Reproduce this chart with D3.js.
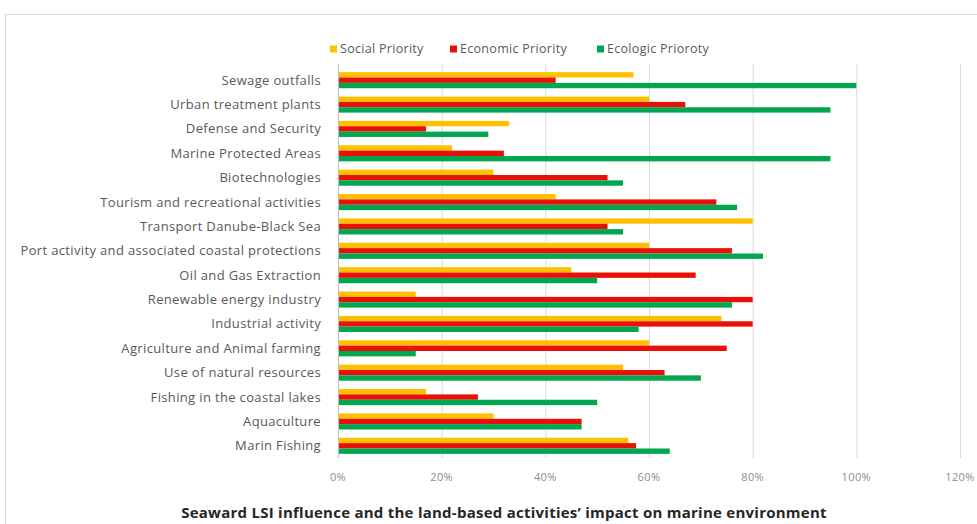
<!DOCTYPE html>
<html>
<head>
<meta charset="utf-8">
<script src="https://cdn.jsdelivr.net/npm/d3@7"></script>
<style>
  body { margin: 0; background: #fff; }
  svg { display: block; font-family: "Open Sans", "Liberation Sans", Arial, sans-serif; }
</style>
</head>
<body>
<svg id="chart" width="977" height="524"></svg>
<script>
const categories = [
  "Sewage outfalls",
  "Urban treatment plants",
  "Defense and Security",
  "Marine Protected Areas",
  "Biotechnologies",
  "Tourism and recreational activities",
  "Transport Danube-Black Sea",
  "Port activity and associated coastal protections",
  "Oil and Gas Extraction",
  "Renewable energy industry",
  "Industrial activity",
  "Agriculture and Animal farming",
  "Use of natural resources",
  "Fishing in the coastal lakes",
  "Aquaculture",
  "Marin Fishing"
]

const socialPriority   = [57, 60, 33, 22, 30, 42, 80, 60, 45, 15, 74, 60, 55, 17, 30, 56]
const economicPriority = [42, 67, 17, 32, 52, 73, 52, 76, 69, 80, 80, 75, 63, 27, 47, 57.5]
const ecologicPriority = [100, 95, 29, 95, 55, 77, 55, 82, 50, 76, 58, 15, 70, 50, 47, 64]

const seriesNames = ["Social Priority", "Economic Priority", "Ecologic Prioroty"]
const seriesColors = ["#ffc000", "#e81108", "#00a650"]
const xTicks = [0, 20, 40, 60, 80, 100, 120]

const svg = d3.select("#chart")

// chart frame
svg.append("rect")
  .attr("x", 5.5).attr("y", 14.5)
  .attr("width", 990).attr("height", 540)
  .attr("fill", "none")
  .attr("stroke", "#d9d9d9")

const plot = { left: 338, right: 960, top: 64, bottom: 458 }

const x = d3.scaleLinear()
  .domain([0, 120])
  .range([plot.left, plot.right])

const y = d3.scaleBand()
  .domain(categories)
  .range([68, 458])
  .paddingInner(0.34)
  .paddingOuter(0.17)

const ySub = d3.scaleBand()
  .domain(seriesNames)
  .range([0, y.bandwidth()])

// gridlines
svg.append("g")
  .selectAll("line")
  .data(xTicks)
  .join("line")
  .attr("x1", d => x(d) + 0.5)
  .attr("x2", d => x(d) + 0.5)
  .attr("y1", plot.top)
  .attr("y2", plot.bottom)
  .attr("stroke", "#d9d9d9")

// tick labels
svg.append("g")
  .selectAll("text")
  .data(xTicks)
  .join("text")
  .attr("x", d => x(d))
  .attr("y", 477)
  .attr("dy", "0.35em")
  .attr("text-anchor", "middle")
  .attr("font-size", "11px")
  .attr("letter-spacing", "0.4px")
  .attr("fill", "#8c8c8c")
  .text(d => d + "%")

// bars
const rows = categories.map((c, i) => ({
  category: c,
  values: [socialPriority[i], economicPriority[i], ecologicPriority[i]]
}))

const groups = svg.append("g")
  .selectAll("g")
  .data(rows)
  .join("g")
  .attr("transform", d => `translate(0,${y(d.category)})`)

groups.selectAll("rect")
  .data(d => d.values.map((v, j) => ({ name: seriesNames[j], value: v, color: seriesColors[j] })))
  .join("rect")
  .attr("x", x(0))
  .attr("y", d => ySub(d.name))
  .attr("width", d => x(d.value) - x(0))
  .attr("height", ySub.bandwidth())
  .attr("fill", d => d.color)

// category axis line
svg.append("line")
  .attr("x1", x(0) + 0.5).attr("x2", x(0) + 0.5)
  .attr("y1", plot.top).attr("y2", plot.bottom)
  .attr("stroke", "#bfbfbf")

// category labels
svg.append("g")
  .selectAll("text")
  .data(categories)
  .join("text")
  .attr("x", 321)
  .attr("y", d => y(d) + y.bandwidth() / 2)
  .attr("dy", "0.35em")
  .attr("text-anchor", "end")
  .attr("font-size", "13px")
  .attr("letter-spacing", "0.35px")
  .attr("fill", "#595959")
  .text(d => d)

// legend
const legendX = [330, 450, 597]
const legend = svg.append("g")
seriesNames.forEach((name, i) => {
  const item = legend.append("g").attr("transform", `translate(${legendX[i]},49)`)
  item.append("rect")
    .attr("x", 0).attr("y", -3.5)
    .attr("width", 7).attr("height", 7)
    .attr("fill", seriesColors[i])
  item.append("text")
    .attr("x", 10)
    .attr("dy", "0.35em")
    .attr("font-size", "12.5px")
    .attr("letter-spacing", "0.3px")
    .attr("fill", "#595959")
    .text(name)
})

// title
svg.append("text")
  .attr("x", 504)
  .attr("y", 513)
  .attr("dy", "0.35em")
  .attr("text-anchor", "middle")
  .attr("font-size", "15px")
  .attr("letter-spacing", "0.25px")
  .attr("font-weight", "bold")
  .attr("fill", "#262626")
  .text("Seaward LSI influence and the land-based activities\u2019 impact on marine environment")
</script>
</body>
</html>
